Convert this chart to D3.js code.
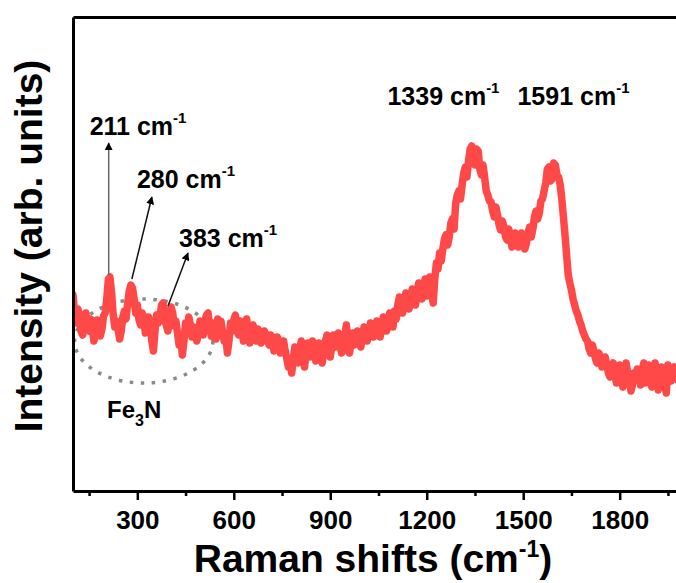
<!DOCTYPE html>
<html>
<head>
<meta charset="utf-8">
<script src="https://cdn.jsdelivr.net/npm/d3@7"></script>
<style>
  html, body { margin: 0; padding: 0; background: #fff; }
  svg { display: block; }
  text { font-family: "Liberation Sans", Arial, sans-serif; font-weight: bold; fill: #000; }
</style>
</head>
<body>
<script>
// Raman shift grid (cm^-1), 5 cm^-1 steps
const ramanShift = [
  100,105,110,115,120,125,130,135,140,145,150,155,160,165,170,175,180,185,190,195,
  200,205,210,215,220,225,230,235,240,245,250,255,260,265,270,275,280,285,290,295,
  300,305,310,315,320,325,330,335,340,345,350,355,360,365,370,375,380,385,390,395,
  400,405,410,415,420,425,430,435,440,445,450,455,460,465,470,475,480,485,490,495,
  500,505,510,515,520,525,530,535,540,545,550,555,560,565,570,575,580,585,590,595,
  600,605,610,615,620,625,630,635,640,645,650,655,660,665,670,675,680,685,690,695,
  700,705,710,715,720,725,730,735,740,745,750,755,760,765,770,775,780,785,790,795,
  800,805,810,815,820,825,830,835,840,845,850,855,860,865,870,875,880,885,890,895,
  900,905,910,915,920,925,930,935,940,945,950,955,960,965,970,975,980,985,990,995,
  1000,1005,1010,1015,1020,1025,1030,1035,1040,1045,1050,1055,1060,1065,1070,1075,1080,1085,1090,1095,
  1100,1105,1110,1115,1120,1125,1130,1135,1140,1145,1150,1155,1160,1165,1170,1175,1180,1185,1190,1195,
  1200,1205,1210,1215,1220,1225,1230,1235,1240,1245,1250,1255,1260,1265,1270,1275,1280,1285,1290,1295,
  1300,1305,1310,1315,1320,1325,1330,1335,1340,1345,1350,1355,1360,1365,1370,1375,1380,1385,1390,1395,
  1400,1405,1410,1415,1420,1425,1430,1435,1440,1445,1450,1455,1460,1465,1470,1475,1480,1485,1490,1495,
  1500,1505,1510,1515,1520,1525,1530,1535,1540,1545,1550,1555,1560,1565,1570,1575,1580,1585,1590,1595,
  1600,1605,1610,1615,1620,1625,1630,1635,1640,1645,1650,1655,1660,1665,1670,1675,1680,1685,1690,1695,
  1700,1705,1710,1715,1720,1725,1730,1735,1740,1745,1750,1755,1760,1765,1770,1775,1780,1785,1790,1795,
  1800,1805,1810,1815,1820,1825,1830,1835,1840,1845,1850,1855,1860,1865,1870,1875,1880,1885,1890,1895,
  1900,1905,1910,1915,1920,1925,1930,1935,1940,1945,1950,1955,1960,1965,1970,1975,1980,1985,1990,1995,
  2000
];

// Measured intensity (arb. units)
const intensity = [
  196,178,168,182,176,160,156,170,178,163,160,172,163,150,158,171,168,155,162,175,
  178,192,212,214,198,176,164,170,162,152,160,174,180,172,188,200,206,203,192,178,
  186,172,166,178,173,158,160,174,168,150,140,160,176,168,172,186,188,172,166,160,
  173,184,178,165,170,158,146,154,136,150,168,160,174,166,154,164,160,150,158,170,
  162,156,170,176,178,164,155,168,160,152,172,164,170,160,150,156,138,150,168,160,
  171,176,162,156,170,164,150,160,172,158,148,156,166,158,150,162,158,148,152,160,
  156,150,146,156,153,140,144,154,150,138,142,150,140,132,124,130,118,132,144,134,
  128,142,150,136,124,138,148,134,140,150,140,130,136,148,138,128,140,150,156,146,
  134,146,156,144,150,158,148,138,140,154,166,150,138,150,158,146,150,160,152,144,
  153,164,158,150,157,168,163,154,160,170,160,154,163,174,168,160,167,178,170,164,
  180,172,186,194,185,178,188,198,187,182,194,202,193,186,200,208,197,192,205,212,
  195,204,214,200,188,212,228,222,238,230,242,252,256,246,254,268,272,262,288,296,
  300,292,306,318,324,314,330,342,345,332,326,342,340,322,316,326,314,300,296,290,
  289,280,274,284,276,266,261,270,264,254,251,262,255,244,248,258,252,244,250,258,
  250,242,248,258,264,254,262,274,280,272,278,290,292,300,308,322,324,310,312,328,
  326,316,314,306,292,274,256,236,216,208,201,192,186,180,176,170,166,160,156,152,
  150,142,138,146,140,132,128,138,134,124,126,134,126,118,114,124,128,116,108,118,
  126,114,104,116,128,118,111,100,106,118,114,122,116,106,121,128,108,116,126,112,
  104,116,128,114,101,112,124,116,106,98,126,118,110,120,124,112,111,122,125,114,
  109
];

// Axis ticks
const majorTicks = [300, 600, 900, 1200, 1500, 1800];
const minorTicks = [150, 450, 750, 1050, 1350, 1650, 1950];

// Peak annotations
const arrowPeaks = [211, 280, 383];
const arrowLabels = ["211", "280", "383"];
const bandPeaks = [1339, 1591];
const bandLabels = ["1339", "1591"];

const W = 676, H = 583;
const svg = d3.select("body").append("svg").attr("width", W).attr("height", H);

const x = d3.scaleLinear().domain([100, 2000]).range([73, 684]);
const y = d3.scaleLinear().domain([0, 474]).range([491, 17]);

// plotting area clip
svg.append("defs").append("clipPath").attr("id", "plotClip")
  .append("rect").attr("x", 73).attr("y", 17).attr("width", W - 73).attr("height", 474);

const points = ramanShift.map((s, i) => [s, intensity[i]]);
const line = d3.line().x(d => x(d[0])).y(d => y(d[1]));

// Fe3N region marker (dotted ellipse)
svg.append("ellipse")
  .attr("cx", x(320)).attr("cy", y(150))
  .attr("rx", x(535) - x(320)).attr("ry", y(108) - y(150))
  .attr("fill", "none").attr("stroke", "#8a8a8a")
  .attr("stroke-width", 3.5).attr("stroke-dasharray", "3.5 7.5")
  .attr("clip-path", "url(#plotClip)");

// spectrum
svg.append("path")
  .datum(points)
  .attr("d", line)
  .attr("fill", "none")
  .attr("stroke", "#ff4848")
  .attr("stroke-width", 7.5)
  .attr("stroke-linejoin", "round")
  .attr("stroke-linecap", "round")
  .attr("clip-path", "url(#plotClip)");

// axes
const gx = svg.append("g").attr("transform", "translate(0,491)")
  .call(d3.axisBottom(x).tickValues(majorTicks).tickSize(9).tickSizeOuter(0).tickPadding(0).tickFormat(d3.format("d")));
gx.select(".domain").attr("stroke-width", 3);
gx.selectAll(".tick line").attr("stroke-width", 2.5);
gx.selectAll(".tick text")
  .attr("y", 38).attr("dy", 0)
  .style("font-size", "26px")
  .style("font-family", "'Liberation Sans', Arial, sans-serif")
  .style("font-weight", "bold");

const gxm = svg.append("g").attr("transform", "translate(0,491)")
  .call(d3.axisBottom(x).tickValues(minorTicks).tickSize(5).tickSizeOuter(0).tickFormat(""));
gxm.select(".domain").remove();
gxm.selectAll(".tick line").attr("stroke-width", 2.5);

const gy = svg.append("g").attr("transform", "translate(73,0)")
  .call(d3.axisLeft(y).tickValues([]).tickSizeOuter(0));
gy.select(".domain").attr("stroke-width", 3);

const gt = svg.append("g").attr("transform", "translate(0,17)")
  .call(d3.axisTop(x).tickValues([]).tickSizeOuter(0));
gt.select(".domain").attr("stroke-width", 3);

// axis titles
const xt = svg.append("text")
  .attr("x", 373).attr("y", 572)
  .attr("text-anchor", "middle")
  .style("font-size", "39px");
xt.append("tspan").text("Raman shifts (cm");
xt.append("tspan").attr("dy", -15).style("font-size", "23px").text("-1");
xt.append("tspan").attr("dy", 15).text(")");

svg.append("text")
  .attr("transform", "translate(42,246) rotate(-90)")
  .attr("text-anchor", "middle")
  .style("font-size", "39px")
  .text("Intensity (arb. units)");

// labelled text with cm^-1 superscript
function waveLabel(px, py, num) {
  const t = svg.append("text").attr("x", px).attr("y", py).style("font-size", "25px");
  t.append("tspan").text(num + " cm");
  t.append("tspan").attr("dy", -12).style("font-size", "15px").text("-1");
  return t;
}

// arrows
svg.append("defs").append("marker")
  .attr("id", "arrowHead").attr("viewBox", "0 0 10 10")
  .attr("refX", 9).attr("refY", 5)
  .attr("markerWidth", 8).attr("markerHeight", 8)
  .attr("markerUnits", "userSpaceOnUse")
  .attr("orient", "auto")
  .append("path").attr("d", "M0,0 L10,5 L0,10 Z").attr("fill", "#000");

const arrowSpecs = [
  { dx0: 0,  dy0: -4,  dx1: 0,  y1: 143, lx: -19, ly: 135, col: "#666" },
  { dx0: 1,  dy0: -6,  dx1: 21, y1: 197, lx: 6,   ly: 188, col: "#111" },
  { dx0: 4,  dy0: -13, dx1: 24, y1: 253, lx: 15,  ly: 247, col: "#111" }
];
arrowPeaks.forEach((p, i) => {
  const s = arrowSpecs[i];
  const idx = d3.minIndex(ramanShift, v => Math.abs(v - p));
  const yPeak = y(intensity[idx]);
  svg.append("line")
    .attr("x1", x(p) + s.dx0).attr("y1", yPeak + s.dy0)
    .attr("x2", x(p) + s.dx1).attr("y2", s.y1)
    .attr("stroke", s.col).attr("stroke-width", 1.5)
    .attr("marker-end", "url(#arrowHead)");
  waveLabel(x(p) + s.lx, s.ly, arrowLabels[i]);
});

const bandOffsets = [-84, -35];
bandPeaks.forEach((p, i) => {
  waveLabel(x(p) + bandOffsets[i], 105, bandLabels[i]);
});

// Fe3N label
const fe = svg.append("text").attr("x", 107).attr("y", 418).style("font-size", "24px");
fe.append("tspan").text("Fe");
fe.append("tspan").attr("dy", 8).style("font-size", "16px").text("3");
fe.append("tspan").attr("dy", -8).text("N");
</script>
</body>
</html>
